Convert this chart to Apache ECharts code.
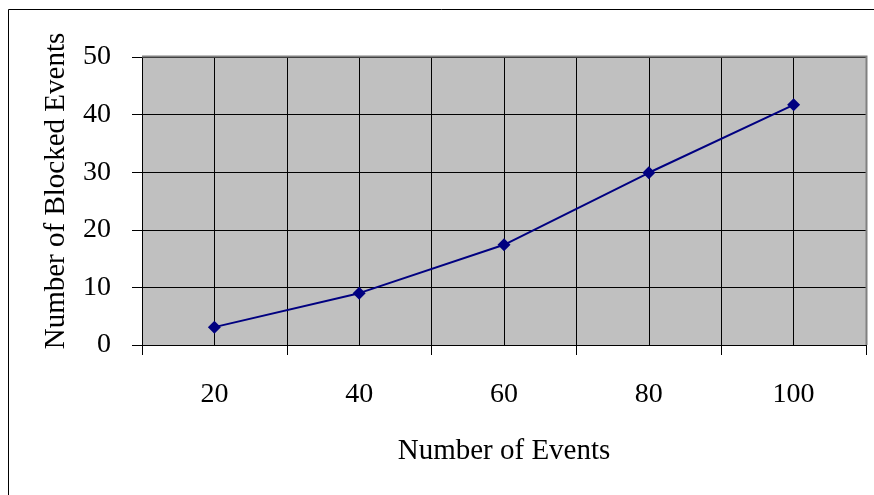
<!DOCTYPE html>
<html>
<head>
<meta charset="utf-8">
<script src="https://cdn.jsdelivr.net/npm/echarts@6/dist/echarts.min.js"></script>
<style>
  html, body { margin: 0; padding: 0; background: #fff; }
  #chart { width: 874px; height: 495px; }
</style>
</head>
<body>
<div id="chart"></div>
<script>
// Number of events vs. number of blocked events
const categories = ['20', '40', '60', '80', '100'];
const blocked = [3.1, 9.0, 17.4, 29.9, 41.7];
const yTicks = { min: 0, max: 50, step: 10 };
const xTitle = 'Number of Events';
const yTitle = 'Number of Blocked Events';

const serif = '"Liberation Serif", "Times New Roman", serif';
const chart = echarts.init(document.getElementById('chart'), null, { renderer: 'canvas' });

const grid = { left: 142, top: 57, right: 8, bottom: 150 };

chart.setOption({
  animation: false,
  backgroundColor: '#ffffff',
  grid: {
    left: grid.left, top: grid.top, right: grid.right, bottom: grid.bottom,
    show: true, backgroundColor: '#c0c0c0', borderWidth: 0
  },
  xAxis: [
    {
      type: 'category',
      data: categories,
      boundaryGap: true,
      name: xTitle,
      nameLocation: 'middle',
      nameGap: 92,
      nameTextStyle: { fontFamily: serif, fontSize: 29, color: '#000' },
      axisLine: { lineStyle: { color: '#000', width: 1 } },
      axisTick: { show: true, length: 10, interval: 0, lineStyle: { color: '#000' } },
      axisLabel: { fontFamily: serif, fontSize: 28, color: '#000', margin: 36 },
      splitLine: { show: false }
    },
    {
      // half-category grid lines (boundaries and centres)
      type: 'value',
      min: 10, max: 110, interval: 10,
      position: 'bottom',
      axisLine: { show: false },
      axisTick: { show: false },
      axisLabel: { show: false },
      splitLine: { show: true, lineStyle: { color: '#000', width: 1 } }
    }
  ],
  yAxis: {
    type: 'value',
    min: yTicks.min, max: yTicks.max, interval: yTicks.step,
    axisLine: { show: true, lineStyle: { color: '#000', width: 1 } },
    axisTick: { show: true, length: 10, lineStyle: { color: '#000' } },
    axisLabel: { fontFamily: serif, fontSize: 28, color: '#000', margin: 31, padding: [6, 0, 0, 0] },
    splitLine: { show: true, lineStyle: { color: '#000', width: 1 } }
  },
  graphic: [
    {
      type: 'rect',
      shape: { x: 8.5, y: 9.5, width: 900, height: 600 },
      style: { fill: 'none', stroke: '#000', lineWidth: 1 },
      z: 0, silent: true
    },
    {
      // grey frame on the top and right of the plot area
      type: 'polyline',
      shape: { points: [[grid.left, grid.top - 0.5], [874 - grid.right + 0.5, grid.top - 0.5], [874 - grid.right + 0.5, 495 - grid.bottom]] },
      style: { stroke: '#808080', lineWidth: 2, fill: 'none' },
      z: 5, silent: true
    },
    {
      type: 'text',
      x: 56, y: 191,
      rotation: Math.PI / 2,
      style: {
        text: yTitle,
        font: '29px ' + serif,
        fill: '#000',
        textAlign: 'center',
        textVerticalAlign: 'middle'
      },
      z: 10, silent: true
    }
  ],
  series: [{
    type: 'line',
    xAxisIndex: 0,
    data: blocked,
    symbol: 'diamond',
    symbolSize: 13,
    lineStyle: { color: '#000080', width: 2 },
    itemStyle: { color: '#000080' },
    z: 10
  }]
});
</script>
</body>
</html>
